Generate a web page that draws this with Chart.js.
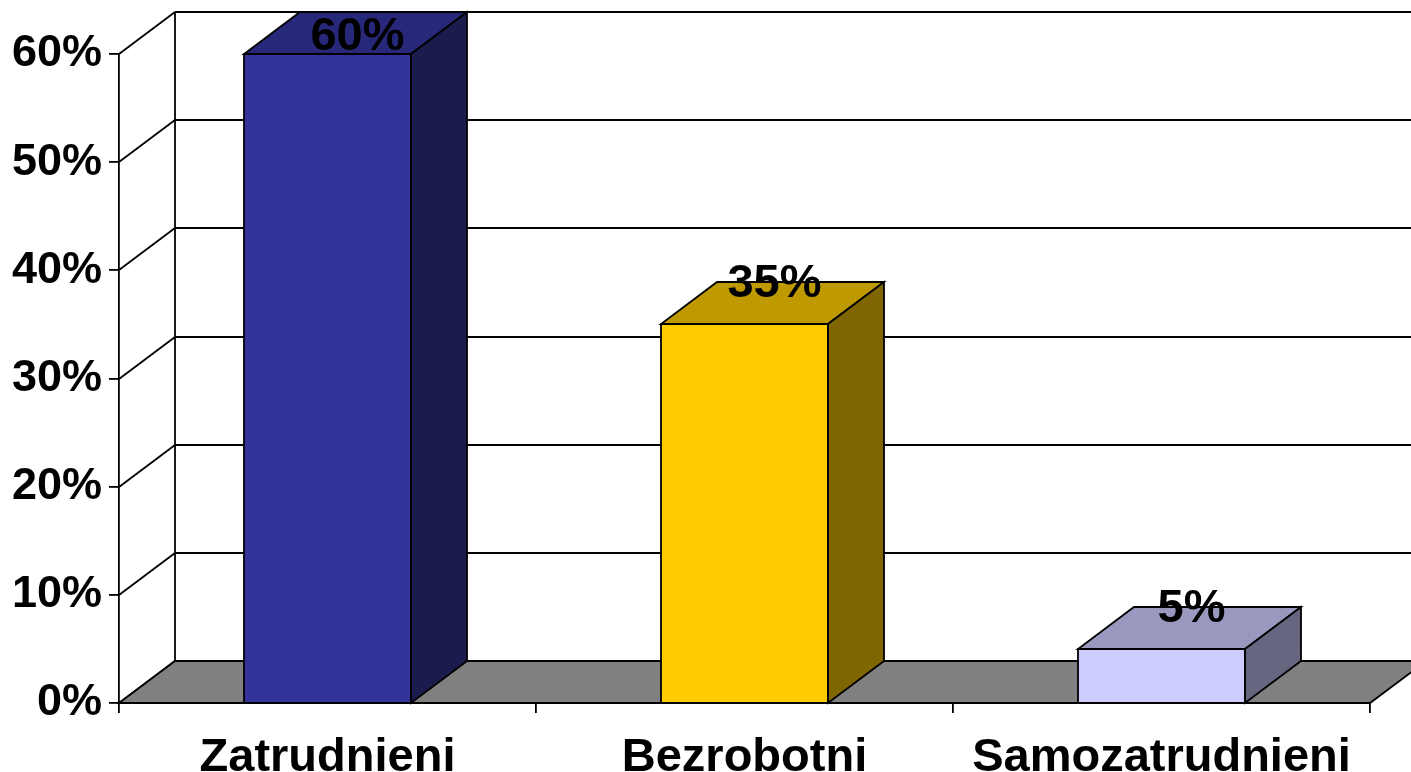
<!DOCTYPE html>
<html>
<head>
<meta charset="utf-8">
<script src="https://cdn.jsdelivr.net/npm/chart.js@4.4.1/dist/chart.umd.min.js"></script>
<style>
  html, body { margin: 0; padding: 0; background: #ffffff; }
  #wrap { width: 1411px; height: 772px; position: relative; }
</style>
</head>
<body>
<div id="wrap"><canvas id="c" width="1411" height="772"></canvas></div>
<script>
// ---- data ----
const categories = ['Zatrudnieni', 'Bezrobotni', 'Samozatrudnieni'];
const values = [60, 35, 5];
const yTicks = [0, 10, 20, 30, 40, 50, 60];

// ---- styles ----
const frontColors = ['#333399', '#ffcc00', '#ccccff'];
const topColors = ['#28287a', '#bf9900', '#9999bf'];
const sideColors = ['#1b1b4d', '#806600', '#666680'];
const DX = 56, DY = 42;
const LW = 1.8;
const FAMILY = '"Liberation Sans", Arial, sans-serif';
const FONT = 'bold 47px ' + FAMILY;

const threeD = {
  id: 'threeD',
  beforeDatasetsDraw(chart) {
    const ctx = chart.ctx;
    const a = chart.chartArea;
    const ys = chart.scales.y;
    ctx.save();
    ctx.strokeStyle = '#000';
    ctx.lineWidth = LW;
    ctx.lineJoin = 'miter';
    // back wall gridlines and left wall diagonals
    yTicks.forEach(v => {
      const py = Math.round(ys.getPixelForValue(v));
      ctx.beginPath();
      ctx.moveTo(a.left + DX, py - DY);
      ctx.lineTo(a.right + DX, py - DY);
      ctx.stroke();
      ctx.beginPath();
      ctx.moveTo(a.left, py);
      ctx.lineTo(a.left + DX, py - DY);
      ctx.stroke();
    });
    // back wall vertical edge
    const top = Math.round(ys.getPixelForValue(yTicks[yTicks.length - 1]));
    const bot = Math.round(ys.getPixelForValue(0));
    ctx.beginPath();
    ctx.moveTo(a.left + DX, top - DY);
    ctx.lineTo(a.left + DX, bot - DY);
    ctx.stroke();
    // floor
    ctx.beginPath();
    ctx.moveTo(a.left, bot);
    ctx.lineTo(a.right, bot);
    ctx.lineTo(a.right + DX, bot - DY);
    ctx.lineTo(a.left + DX, bot - DY);
    ctx.closePath();
    ctx.fillStyle = '#808080';
    ctx.fill();
    ctx.stroke();
    ctx.restore();
  },
  afterDatasetsDraw(chart) {
    const ctx = chart.ctx;
    const meta = chart.getDatasetMeta(0);
    const base = Math.round(chart.scales.y.getPixelForValue(0));
    ctx.save();
    ctx.strokeStyle = '#000';
    ctx.lineWidth = LW;
    ctx.lineJoin = 'miter';
    meta.data.forEach((bar, i) => {
      const x0 = Math.round(bar.x - bar.width / 2);
      const x1 = Math.round(bar.x + bar.width / 2);
      const y = Math.round(bar.y);
      // top face
      ctx.beginPath();
      ctx.moveTo(x0, y);
      ctx.lineTo(x1, y);
      ctx.lineTo(x1 + DX, y - DY);
      ctx.lineTo(x0 + DX, y - DY);
      ctx.closePath();
      ctx.fillStyle = topColors[i];
      ctx.fill();
      ctx.stroke();
      // side face
      ctx.beginPath();
      ctx.moveTo(x1, y);
      ctx.lineTo(x1 + DX, y - DY);
      ctx.lineTo(x1 + DX, base - DY);
      ctx.lineTo(x1, base);
      ctx.closePath();
      ctx.fillStyle = sideColors[i];
      ctx.fill();
      ctx.stroke();
      // front outline
      ctx.strokeRect(x0, y, x1 - x0, base - y);
    });
    // value labels
    ctx.fillStyle = '#000';
    ctx.font = FONT;
    ctx.textAlign = 'center';
    ctx.textBaseline = 'alphabetic';
    meta.data.forEach((bar, i) => {
      const ly = Math.max(bar.y - 27, 50);
      ctx.fillText(values[i] + '%', bar.x + 30, ly);
    });
    ctx.restore();
  }
};

new Chart(document.getElementById('c'), {
  type: 'bar',
  data: {
    labels: categories,
    datasets: [{
      data: values,
      backgroundColor: frontColors,
      borderColor: '#000',
      borderWidth: 0,
      categoryPercentage: 1.0,
      barPercentage: 0.4
    }]
  },
  options: {
    responsive: false,
    animation: false,
    devicePixelRatio: 1,
    layout: { padding: { top: 54, right: 41, left: 0, bottom: 0 } },
    plugins: { legend: { display: false }, tooltip: { enabled: false } },
    scales: {
      x: {
        offset: true,
        grid: { display: true, drawOnChartArea: false, offset: true, tickLength: 10, color: '#000', lineWidth: LW },
        border: { display: true, color: '#000', width: LW },
        ticks: { color: '#000', font: { family: FAMILY, size: 47, weight: 'bold' }, padding: 17, maxRotation: 0, autoSkip: false },
        afterFit(s) { s.height = 69; }
      },
      y: {
        min: 0, max: 60,
        afterBuildTicks(s) { s.ticks = yTicks.map(v => ({ value: v })); },
        grid: { display: true, drawOnChartArea: false, tickLength: 10, color: '#000', lineWidth: LW },
        border: { display: true, color: '#000', width: LW },
        ticks: { color: '#000', font: { family: FAMILY, size: 45, weight: 'bold' }, padding: 7, callback: v => v + '%' },
        afterFit(s) { s.width = 119; }
      }
    }
  },
  plugins: [threeD]
});
</script>
</body>
</html>
